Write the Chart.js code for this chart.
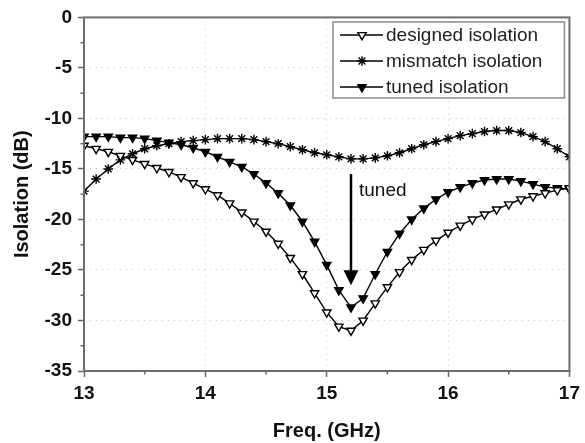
<!DOCTYPE html>
<html><head><meta charset="utf-8">
<script src="https://cdn.jsdelivr.net/npm/chart.js@4/dist/chart.umd.min.js"></script>
<style>html,body{margin:0;padding:0;background:#fff}#wrap{width:585px;height:443px}</style>
</head><body><div id="wrap"><canvas id="c" width="585" height="443"></canvas></div>
<script>
const freqs = [13.0,13.1,13.2,13.3,13.4,13.5,13.6,13.7,13.8,13.9,14.0,14.1,14.2,14.3,14.4,14.5,14.6,14.7,14.8,14.9,15.0,15.1,15.2,15.3,15.4,15.5,15.6,15.7,15.8,15.9,16.0,16.1,16.2,16.3,16.4,16.5,16.6,16.7,16.8,16.9,17.0];
const designedIsolation = [-12.7,-13.0,-13.3,-13.7,-14.1,-14.5,-14.9,-15.3,-15.8,-16.4,-17.0,-17.6,-18.4,-19.3,-20.2,-21.2,-22.4,-23.8,-25.4,-27.3,-29.2,-30.6,-31.0,-30.0,-28.3,-26.7,-25.2,-24.0,-23.0,-22.1,-21.3,-20.6,-20.0,-19.5,-19.0,-18.5,-18.0,-17.7,-17.4,-17.1,-16.9];
const mismatchIsolation = [-17.2,-16.0,-15.0,-14.1,-13.5,-13.0,-12.7,-12.5,-12.3,-12.2,-12.1,-12.0,-12.0,-12.0,-12.1,-12.3,-12.5,-12.8,-13.1,-13.4,-13.6,-13.8,-14.0,-14.0,-13.9,-13.7,-13.4,-13.0,-12.6,-12.3,-12.0,-11.7,-11.5,-11.3,-11.2,-11.2,-11.4,-11.8,-12.3,-13.0,-13.8];
const tunedIsolation = [-11.8,-11.8,-11.8,-11.9,-11.9,-12.0,-12.2,-12.4,-12.6,-12.9,-13.3,-13.8,-14.3,-14.8,-15.5,-16.4,-17.4,-18.6,-20.2,-22.2,-24.5,-27.0,-28.7,-27.8,-25.4,-23.2,-21.4,-20.0,-18.9,-18.0,-17.3,-16.8,-16.4,-16.1,-16.0,-16.0,-16.2,-16.5,-16.8,-16.9,-17.0];
const seriesNames = ['designed isolation','mismatch isolation','tuned isolation'];
const xTicks = [13,14,15,16,17];
const yTicks = [0,-5,-10,-15,-20,-25,-30,-35];
const xMinorTicks = [13.5,14.5,15.5,16.5];
const yMinorTicks = [-2.5,-7.5,-12.5,-17.5,-22.5,-27.5,-32.5];
const arrowFreq = 15.2, arrowStart = -15.5, arrowEnd = -26.5, arrowText = 'tuned';
const xTitle = 'Freq. (GHz)', yTitle = 'Isolation (dB)';

const FONT = "'Liberation Sans', Arial, sans-serif";
const toXY = arr => arr.map((v,i)=>({x:freqs[i], y:v}));

const frameAndExtras = {
  id:'frameAndExtras',
  afterDraw(chart){
    const {ctx, chartArea:a, scales:{x,y}} = chart;
    ctx.save();
    ctx.strokeStyle = '#666'; ctx.lineWidth = 1.5;
    xMinorTicks.forEach(v=>{const px=x.getPixelForValue(v); ctx.beginPath(); ctx.moveTo(px,a.bottom); ctx.lineTo(px,a.bottom+3.5); ctx.stroke();});
    yMinorTicks.forEach(v=>{const py=y.getPixelForValue(v); ctx.beginPath(); ctx.moveTo(a.left,py); ctx.lineTo(a.left-3.5,py); ctx.stroke();});
    ctx.strokeStyle = '#6e6e6e'; ctx.lineWidth = 2;
    ctx.strokeRect(a.left, a.top, a.right-a.left, a.bottom-a.top);
    const ax = x.getPixelForValue(arrowFreq), ay1 = y.getPixelForValue(arrowStart), ay2 = y.getPixelForValue(arrowEnd);
    ctx.strokeStyle = '#000'; ctx.fillStyle = '#000'; ctx.lineWidth = 2.5;
    ctx.beginPath(); ctx.moveTo(ax, ay1); ctx.lineTo(ax, ay2-14); ctx.stroke();
    ctx.beginPath(); ctx.moveTo(ax-7.5, ay2-15); ctx.lineTo(ax+7.5, ay2-15); ctx.lineTo(ax, ay2); ctx.closePath(); ctx.fill();
    ctx.fillStyle = '#111';
    ctx.font = "19px " + FONT; ctx.textBaseline='middle'; ctx.textAlign='left';
    ctx.fillText(arrowText, ax+8, ay1+17);
    const L = 333, T = 22, R = a.right-5, B = 98;
    ctx.fillStyle='#fff'; ctx.fillRect(L,T,R-L,B-T);
    ctx.strokeStyle='#8a8a8a'; ctx.lineWidth=1.5; ctx.strokeRect(L,T,R-L,B-T);
    chart.data.datasets.forEach((ds,i)=>{
      const cy = 35 + i*26;
      ctx.strokeStyle='#000'; ctx.lineWidth=1.5;
      ctx.beginPath(); ctx.moveTo(340,cy); ctx.lineTo(383,cy); ctx.stroke();
      ctx.fillStyle = ds.pointBackgroundColor; ctx.strokeStyle = ds.pointBorderColor;
      ctx.lineWidth = ds.pointBorderWidth;
      Chart.helpers.drawPoint(ctx, {pointStyle: ds.pointStyle, rotation: ds.pointRotation, radius: ds.pointRadius, borderWidth: ds.pointBorderWidth}, 362, cy);
      ctx.fillStyle='#222'; ctx.font = "19px " + FONT; ctx.textBaseline='middle'; ctx.textAlign='left';
      ctx.fillText(ds.label, 386, cy+1);
    });
    ctx.restore();
  }
};

const mk = (label, data, style, bg, rot) => ({
  label, data: toXY(data), borderColor:'#000', borderWidth:1.4, tension:0,
  pointStyle: style, pointRadius:4.8, pointRotation: rot, pointBackgroundColor:bg,
  pointBorderColor:'#000', pointBorderWidth:1.4, fill:false
});

new Chart(document.getElementById('c'), {
  type:'line',
  data:{datasets:[
    mk(seriesNames[0], designedIsolation, 'triangle', '#fff', 180),
    mk(seriesNames[1], mismatchIsolation, 'star', '#fff', 0),
    mk(seriesNames[2], tunedIsolation, 'triangle', '#000', 180)
  ]},
  options:{
    responsive:false, animation:false, devicePixelRatio:1,
    layout:{padding:{left:0, right:13, top:15, bottom:0}},
    plugins:{legend:{display:false}, tooltip:{enabled:false}},
    scales:{
      x:{type:'linear', min:13, max:17,
        afterBuildTicks: s=>{ s.ticks = xTicks.map(v=>({value:v})); },
        afterFit: s=>{ s.height = 72; },
        ticks:{font:{family:FONT, size:19, weight:'bold'}, color:'#111', padding:5, callback:v=>String(v), maxRotation:0, autoSkip:false},
        grid:{color:'#c4c4c4', lineWidth:1, tickColor:'#666', tickLength:6, tickWidth:1.5},
        border:{display:false, dash:[1,5]},
        title:{display:true, text:xTitle, font:{family:FONT, size:20, weight:'bold'}, color:'#111', padding:{top:0,bottom:0}}
      },
      y:{min:-35, max:0,
        afterBuildTicks: s=>{ s.ticks = yTicks.map(v=>({value:v})); },
        afterFit: s=>{ s.width = 84; },
        ticks:{font:{family:FONT, size:19, weight:'bold'}, color:'#111', padding:6, callback:v=>String(v), autoSkip:false},
        grid:{color:'#c4c4c4', lineWidth:1, tickColor:'#666', tickLength:6, tickWidth:1.5},
        border:{display:false, dash:[1,5]},
        title:{display:true, text:yTitle, font:{family:FONT, size:20, weight:'bold'}, color:'#111', padding:{top:10,bottom:0}}
      }
    }
  },
  plugins:[frameAndExtras]
});
</script></body></html>
